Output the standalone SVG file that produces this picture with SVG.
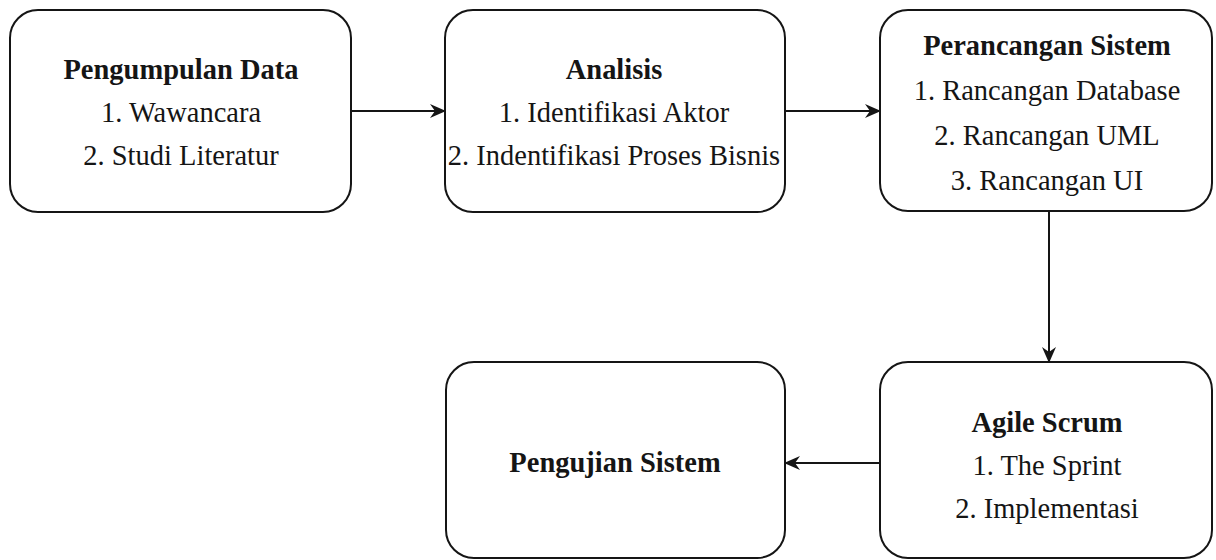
<svg xmlns="http://www.w3.org/2000/svg" width="1216" height="560" viewBox="0 0 1216 560">
<style>
.box{fill:#fff;stroke:#151515;stroke-width:2}
.t{font-family:"Liberation Serif",Tinos,"Times New Roman",serif;font-size:30px;fill:#151515;text-anchor:middle}
.b{font-weight:bold}
.c{stroke:#151515;stroke-width:2;fill:none}
</style>
<defs>
<marker id="arr" viewBox="0 0 16 14" refX="15" refY="7" markerWidth="16" markerHeight="14" markerUnits="userSpaceOnUse" orient="auto">
<path d="M0,0 L16,7 L0,14 L5,7 Z" fill="#151515"/>
</marker>
</defs>
<rect width="1216" height="560" fill="#fff"/>
<g id="connectors">
<line class="c" x1="351" y1="111" x2="445" y2="111" marker-end="url(#arr)"/>
<line class="c" x1="785" y1="111" x2="880" y2="111" marker-end="url(#arr)"/>
<line class="c" x1="1049" y1="211" x2="1049" y2="362" marker-end="url(#arr)"/>
<line class="c" x1="880" y1="463" x2="785" y2="463" marker-end="url(#arr)"/>
</g>
<g id="node-pengumpulan">
<rect class="box" x="10" y="10" width="341" height="202" rx="28"/>
<g transform="translate(181,0) scale(0.95,1)">
<text class="t b" x="0" y="79">Pengumpulan Data</text>
<text class="t" x="0" y="122">1. Wawancara</text>
<text class="t" x="0" y="165">2. Studi Literatur</text>
</g>
</g>
<g id="node-analisis">
<rect class="box" x="445" y="10" width="340" height="202" rx="28"/>
<g transform="translate(614,0) scale(0.95,1)">
<text class="t b" x="0" y="79">Analisis</text>
<text class="t" x="0" y="122">1. Identifikasi Aktor</text>
<text class="t" x="0" y="165">2. Indentifikasi Proses Bisnis</text>
</g>
</g>
<g id="node-perancangan">
<rect class="box" x="880" y="10" width="332" height="201" rx="28"/>
<g transform="translate(1047,0) scale(0.95,1)">
<text class="t b" x="0" y="55">Perancangan Sistem</text>
<text class="t" x="0" y="100">1. Rancangan Database</text>
<text class="t" x="0" y="145">2. Rancangan UML</text>
<text class="t" x="0" y="190">3. Rancangan UI</text>
</g>
</g>
<g id="node-pengujian">
<rect class="box" x="446" y="362" width="339" height="196" rx="28"/>
<g transform="translate(615,0) scale(0.95,1)">
<text class="t b" x="0" y="472">Pengujian Sistem</text>
</g>
</g>
<g id="node-agile">
<rect class="box" x="880" y="362" width="332" height="196" rx="28"/>
<g transform="translate(1047,0) scale(0.95,1)">
<text class="t b" x="0" y="432">Agile Scrum</text>
<text class="t" x="0" y="475">1. The Sprint</text>
<text class="t" x="0" y="518">2. Implementasi</text>
</g>
</g>
</svg>
